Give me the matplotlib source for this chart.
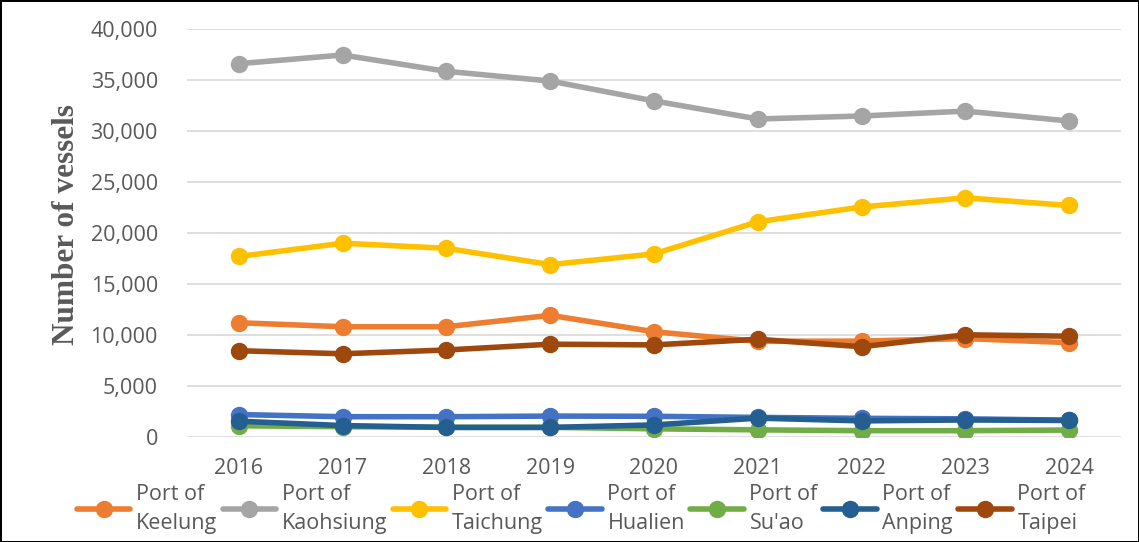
#!/usr/bin/env python3
"""Vessel arrivals by port, 2016-2024."""

import matplotlib
matplotlib.use("Agg")
import matplotlib.pyplot as plt
from matplotlib.ticker import FuncFormatter

years = ["2016", "2017", "2018", "2019", "2020", "2021", "2022", "2023", "2024"]

keelung   = [11200, 10810, 10810, 11930, 10320, 9380, 9400, 9650, 9250]
kaohsiung = [36600, 37450, 35850, 34900, 32950, 31180, 31470, 31950, 30980]
taichung  = [17700, 19000, 18500, 16900, 17950, 21100, 22550, 23450, 22700]
hualien   = [2200, 1990, 1990, 2050, 2030, 1920, 1830, 1780, 1650]
suao      = [1100, 1010, 950, 950, 800, 700, 620, 620, 680]
anping    = [1550, 1120, 940, 940, 1180, 1850, 1580, 1670, 1620]
taipei    = [8460, 8160, 8530, 9100, 9030, 9580, 8850, 10020, 9880]

series = [
    ("Port of\nKeelung",   keelung,   "#ED7D31"),
    ("Port of\nKaohsiung", kaohsiung, "#A5A5A5"),
    ("Port of\nTaichung",  taichung,  "#FFC000"),
    ("Port of\nHualien",   hualien,   "#4472C4"),
    ("Port of\nSu'ao",     suao,      "#70AD47"),
    ("Port of\nAnping",    anping,    "#255E91"),
    ("Port of\nTaipei",    taipei,    "#9E480E"),
]

TXT = "#595959"
plt.rcParams["font.family"] = ["Open Sans", "DejaVu Sans"]

fig = plt.figure(figsize=(11.39, 5.42), dpi=100, linewidth=2, edgecolor="black")
ax = fig.add_axes([187 / 1139, 1 - 437 / 542, (1121 - 187) / 1139, (437 - 29) / 542])

x = range(len(years))
for label, vals, col in series:
    ax.plot(x, vals, color=col, lw=4, marker="o", ms=11.5, label=label,
            solid_capstyle="round")

ax.set_xlim(-0.5, len(years) - 0.5)
ax.set_ylim(0, 40000)
ax.set_yticks(range(0, 40001, 5000))
ax.yaxis.set_major_formatter(FuncFormatter(lambda v, p: f"{int(v):,}"))
ax.set_xticks(list(x))
ax.set_xticklabels(years)
ax.grid(axis="y", color="#D9D9D9", lw=1.2)
ax.set_axisbelow(True)
for s in ax.spines.values():
    s.set_visible(False)
ax.tick_params(length=0, labelsize=15.5, colors=TXT)
ax.tick_params(axis="y", pad=21)
ax.tick_params(axis="x", pad=15)

ax.set_ylabel("Number of vessels", family="Liberation Serif", fontweight="bold",
              fontsize=22.5, color=TXT)
ax.yaxis.set_label_coords(-0.114, 0.52)

leg = ax.legend(loc="upper center", bbox_to_anchor=(0.422, -0.095), ncol=7,
                frameon=False, fontsize=15.5, labelcolor=TXT, handlelength=2.5,
                handletextpad=0.25, columnspacing=0.25, borderaxespad=0,
                labelspacing=0.1)
for t in leg.get_texts():
    t.set_multialignment("left")
    t.set_linespacing(1.45)

fig.savefig("out.png", dpi=100)
